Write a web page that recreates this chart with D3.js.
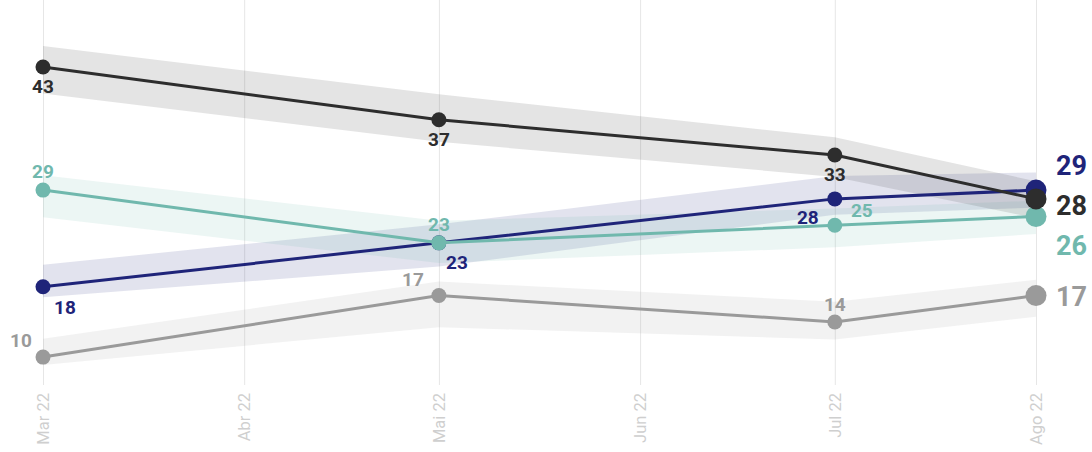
<!DOCTYPE html>
<html>
<head>
<meta charset="utf-8">
<script src="https://cdn.jsdelivr.net/npm/d3@7"></script>
<style>
  html, body { margin: 0; padding: 0; background: #fff; }
  svg { display: block; font-family: Roboto, "Noto Sans", sans-serif; }
</style>
</head>
<body>
<svg id="chart" width="1092" height="452"></svg>
<script>
// Survey dates (first of each month)
const dates = ["2022-03-01", "2022-05-01", "2022-07-01", "2022-08-01"];
// Month tick labels
const tickLabels = ["Mar 22", "Abr 22", "Mai 22", "Jun 22", "Jul 22", "Ago 22"];

// Series values (%)
const darkValues  = [43, 37, 33, 28];
const tealValues  = [29, 23, 25, 26];
const navyValues  = [18, 23, 28, 29];
const greyValues  = [10, 17, 14, 17];

// Uncertainty bands: upper / lower bounds
const darkUpper = [45.4, 39.9, 35.0, 30.0];
const darkLower = [40.0, 34.5, 30.5, 25.8];
const tealUpper = [30.7, 25.5, 26.9, 27.8];
const tealLower = [25.9, 20.7, 22.5, 24.0];
const navyUpper = [20.5, 25.1, 30.6, 31.0];
const navyLower = [16.8, 20.3, 26.2, 27.0];
const greyUpper = [12.1, 18.6, 16.3, 18.8];
const greyLower = [9.1, 13.4, 12.0, 14.6];

const parse = d3.timeParse("%Y-%m-%d");
const svg = d3.select("#chart");

const x = d3.scaleTime()
  .domain([parse("2022-03-01"), parse("2022-08-01")])
  .range([43, 1036]);
const y = d3.scaleLinear().domain([0, 50]).range([445, 5.5]);

// Series, drawn bottom-to-top in this order
const series = [
  { name: "grey", color: "#9a9a9a", values: greyValues, upper: greyUpper, lower: greyLower,
    // label offsets (dx, dy) for each non-final point
    offs: [[-22, -17], [-26, -16], [0, -18]], endDy: 1 },
  { name: "navy", color: "#1f2479", values: navyValues, upper: navyUpper, lower: navyLower,
    offs: [[22, 20], [18, 19], [-27, 18]], endDy: -25 },
  { name: "teal", color: "#70b8ad", values: tealValues, upper: tealUpper, lower: tealLower,
    offs: [[0, -19], [0, -19], [27, -15]], endDy: 29 },
  { name: "dark", color: "#2d2d2d", values: darkValues, upper: darkUpper, lower: darkLower,
    offs: [[0, 19], [0, 19], [0, 19]], endDy: 6 }
];

// Vertical month gridlines + rotated labels
const months = d3.timeMonth.range(parse("2022-03-01"), parse("2022-08-02"));
const axis = d3.axisBottom(x)
  .tickValues(months)
  .tickSize(-385)
  .tickFormat((d, i) => tickLabels[i]);

const gAxis = svg.append("g")
  .attr("transform", "translate(0,385)")
  .call(axis);
gAxis.select(".domain").remove();
gAxis.selectAll(".tick line").attr("stroke", "#e6e6e6").attr("stroke-width", 1);
gAxis.selectAll(".tick text")
  .attr("transform", "rotate(-90)")
  .attr("x", -8)
  .attr("y", 0)
  .attr("dy", "0.35em")
  .attr("text-anchor", "end")
  .attr("fill", "#cfcfcf")
  .style("font-size", "16.5px")
  .style("font-family", "Roboto, sans-serif");

// Bands
const area = d3.area()
  .x(d => x(d.date))
  .y0(d => y(d.lo))
  .y1(d => y(d.hi));

series.forEach(s => {
  const pts = dates.map((d, i) => ({ date: parse(d), lo: s.lower[i], hi: s.upper[i] }));
  svg.append("path")
    .datum(pts)
    .attr("d", area)
    .attr("fill", s.color)
    .attr("fill-opacity", 0.13);
});

// Lines, dots, labels
const line = d3.line().x(d => x(d.date)).y(d => y(d.v));

series.forEach(s => {
  const pts = dates.map((d, i) => ({ date: parse(d), v: s.values[i] }));
  const g = svg.append("g");
  g.append("path")
    .datum(pts)
    .attr("d", line)
    .attr("fill", "none")
    .attr("stroke", s.color)
    .attr("stroke-width", 3);
  g.selectAll("circle")
    .data(pts)
    .join("circle")
    .attr("cx", d => x(d.date))
    .attr("cy", d => y(d.v))
    .attr("r", (d, i) => i === pts.length - 1 ? 10.5 : 7.5)
    .attr("fill", s.color);
  g.selectAll("text.pt")
    .data(pts.slice(0, -1))
    .join("text")
    .attr("class", "pt")
    .attr("x", (d, i) => x(d.date) + s.offs[i][0])
    .attr("y", (d, i) => y(d.v) + s.offs[i][1])
    .attr("dy", "0.36em")
    .attr("text-anchor", "middle")
    .attr("fill", s.color)
    .style("font-size", "19px")
    .style("font-weight", "700")
    .text(d => d.v);
});

// End labels to the right of the last point
series.forEach(s => {
  const last = s.values.length - 1;
  svg.append("text")
    .attr("x", 1056)
    .attr("y", y(s.values[last]) + s.endDy)
    .attr("dy", "0.36em")
    .attr("text-anchor", "start")
    .attr("fill", s.color)
    .style("font-size", "27px")
    .style("font-weight", "700")
    .text(s.values[last]);
});
</script>
</body>
</html>
